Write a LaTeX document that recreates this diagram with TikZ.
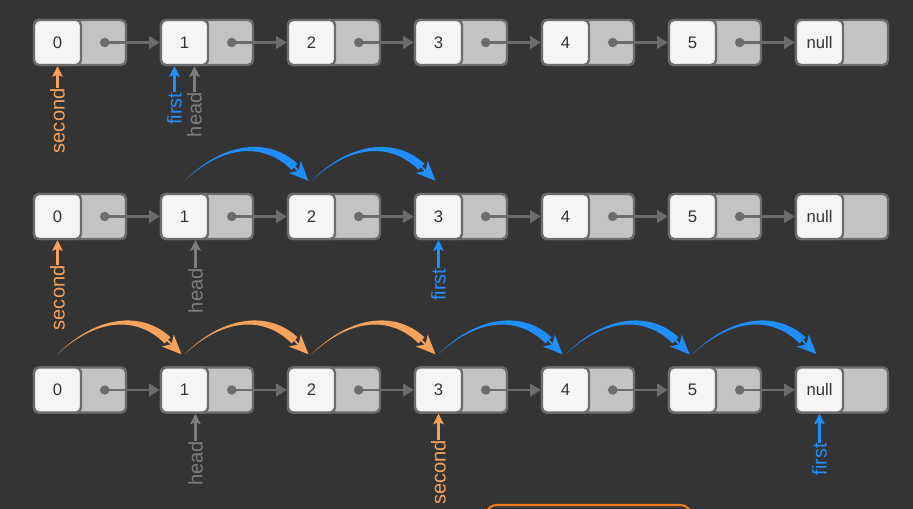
\documentclass[tikz,border=0pt]{standalone}
\usepackage{fontspec}
\setmainfont{Liberation Sans}
\usetikzlibrary{arrows.meta,calc,positioning}

\definecolor{bg}{HTML}{343434}
\definecolor{cellwhite}{HTML}{F5F5F5}
\definecolor{cellgray}{HTML}{C3C3C3}
\definecolor{edgegray}{HTML}{6C6C6C}
\definecolor{ptrorange}{HTML}{F7A25B}
\definecolor{ptrblue}{HTML}{1F8FFF}
\definecolor{ptrgray}{HTML}{7E7E7E}
\definecolor{boxorange}{HTML}{F07A1C}

\tikzset{
  cell/.style={draw=edgegray, line width=1.4pt, rounded corners=2.8pt, minimum height=0.9cm, inner sep=0pt},
  val/.style={cell, fill=cellwhite, minimum width=0.94cm, text=black!80, font=\fontsize{9.5}{10}\selectfont},
  nxt/.style={cell, fill=cellgray, minimum width=1.84cm},
  dot/.style={circle, fill=edgegray, inner sep=0pt, minimum size=0.19cm},
  link/.style={draw=edgegray, line width=1.6pt, -{Triangle[length=6pt,width=7pt]}},
  ptr/.style={line width=1.4pt, -{Stealth[length=6pt,width=6pt,inset=1.2pt]}},
  ptrname/.style={rotate=90, anchor=east, inner sep=0pt, font=\fontsize{11.4}{12}\selectfont},
}

% tapered jump from one cell to the next
\newcommand\hop[3]{%
  \fill[#3] (#1) .. controls ($(#1)+(40,-40)$) and ($(#2)+(-42,-43)$) .. ($(#2)+(-14,-17)$)
    -- ($(#2)+(-20,-11)$) .. controls ($(#2)+(-47,-38)$) and ($(#1)+(40,-37)$) .. (#1) -- cycle;
  \draw[#3, line width=1pt, -{Stealth[length=11pt,width=9.5pt,inset=3pt]}] ($(#2)+(-17,-14)$) -- ($(#2)+(-3,0)$);
}

\begin{document}
\begin{tikzpicture}[x=0.02cm, y=-0.02cm]
\fill[bg] (0,0) rectangle (913,509);
\useasboundingbox (0,0) rectangle (913,509);
% three states of the list
\foreach \r/\y in {1/42.5, 2/216.5, 3/390} {
  \foreach \v [count=\i from 0] in {0,1,2,3,4,5,null} {
    \node[nxt] (g-\r-\i) at (80+127*\i, \y) {};
    \node[val, anchor=west] (v-\r-\i) at (g-\r-\i.west) {\v};
    \coordinate (h-\r-\i) at ($(v-\r-\i.north)+(0,-12)$);
  }
  \foreach \i [evaluate=\i as \j using int(\i+1)] in {0,...,5} {
    \node[dot] (d-\r-\i) at ($(v-\r-\i.east)!.5!(g-\r-\i.east)$) {};
    \draw[link] (d-\r-\i.center) -- (v-\r-\j.west);
  }
}

% jumps
\hop{h-2-1}{h-2-2}{ptrblue}
\hop{h-2-2}{h-2-3}{ptrblue}
\foreach \i/\j in {0/1,1/2,2/3} {\hop{h-3-\i}{h-3-\j}{ptrorange}}
\foreach \i/\j in {3/4,4/5,5/6} {\hop{h-3-\i}{h-3-\j}{ptrblue}}

% row 1
\node[ptrname, text=ptrorange] (sec-1) at ($(v-1-0.south)+(0,22)$) {second};
\draw[ptr, ptrorange] (sec-1.east) -- (sec-1.east |- v-1-0.south);
\node[ptrname, text=ptrblue] (fst-1) at ($(v-1-1.south)+(-10,26)$) {first};
\draw[ptr, ptrblue] (fst-1.east) -- (fst-1.east |- v-1-1.south);
\node[ptrname, text=ptrgray] (hd-1) at ($(v-1-1.south)+(10,26)$) {head};
\draw[ptr, ptrgray] (hd-1.east) -- (hd-1.east |- v-1-1.south);

% row 2
\node[ptrname, text=ptrorange] (sec-2) at ($(v-2-0.south)+(0,25)$) {second};
\draw[ptr, ptrorange] (sec-2.east) -- (sec-2.east |- v-2-0.south);
\node[ptrname, text=ptrgray] (hd-2) at ($(v-2-1.south)+(11,28)$) {head};
\draw[ptr, ptrgray] (hd-2.east) -- (hd-2.east |- v-2-1.south);
\node[ptrname, text=ptrblue] (fst-2) at ($(v-2-3.south)+(0,28)$) {first};
\draw[ptr, ptrblue] (fst-2.east) -- (fst-2.east |- v-2-3.south);

% row 3
\node[ptrname, text=ptrgray] (hd-3) at ($(v-3-1.south)+(11,27)$) {head};
\draw[ptr, ptrgray] (hd-3.east) -- (hd-3.east |- v-3-1.south);
\node[ptrname, text=ptrorange] (sec-3) at ($(v-3-3.south)+(0,26)$) {second};
\draw[ptr, ptrorange] (sec-3.east) -- (sec-3.east |- v-3-3.south);
\node[ptrname, text=ptrblue] (fst-3) at ($(v-3-6.south)+(0,29)$) {first};
\draw[ptr, ptrblue] (fst-3.east) -- (fst-3.east |- v-3-6.south);

% box cut off at the bottom
\draw[boxorange, line width=1.2pt, rounded corners=6pt] (486,505) rectangle (691,560);
\end{tikzpicture}
\end{document}
